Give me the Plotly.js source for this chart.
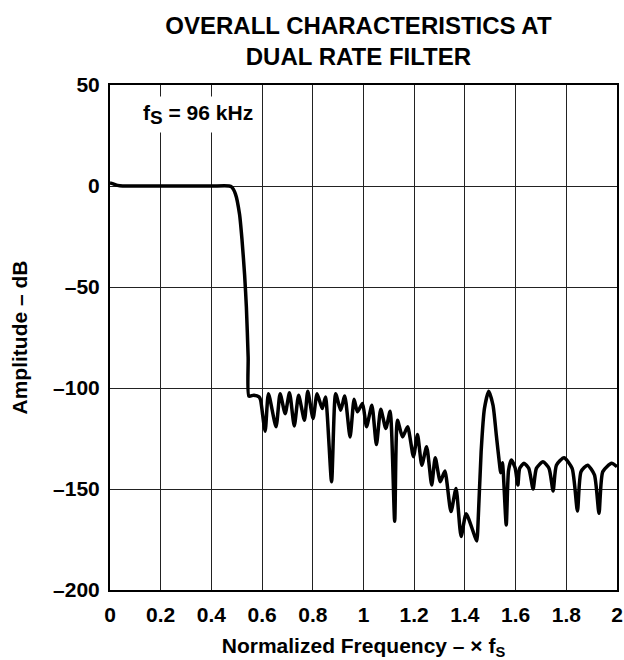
<!DOCTYPE html>
<html>
<head>
<meta charset="utf-8">
<script src="https://cdn.plot.ly/plotly-3.0.1.min.js"></script>
<style>html,body{margin:0;padding:0;background:#fff;}#chart{width:624px;height:660px;}</style>
</head>
<body>
<div id="chart"></div>
<script>
// Normalized frequency (x fS)
const freq = [
  0, 0.01, 0.03, 0.05, 0.2, 0.4, 0.47, 0.48, 0.495, 0.511, 0.521, 0.531, 0.538, 0.545, 0.548,
  0.567, 0.588, 0.594, 0.612, 0.625, 0.655, 0.671, 0.691, 0.708, 0.727, 0.744, 0.767, 0.780,
  0.801, 0.817, 0.837, 0.850, 0.874, 0.890, 0.910, 0.926, 0.947, 0.963, 0.976, 0.996, 1.012,
  1.033, 1.051, 1.068, 1.088, 1.105, 1.123, 1.134, 1.154, 1.174, 1.197, 1.213, 1.230, 1.249,
  1.269, 1.283, 1.303, 1.321, 1.345, 1.365, 1.385, 1.405, 1.447, 1.451, 1.464, 1.477, 1.494,
  1.511, 1.524, 1.537, 1.541, 1.548, 1.563, 1.572, 1.583, 1.598, 1.609, 1.616, 1.633, 1.652,
  1.669, 1.682, 1.708, 1.732, 1.748, 1.761, 1.791, 1.823, 1.844, 1.858, 1.884, 1.911, 1.929,
  1.944, 1.979, 2.0
];
// Amplitude (dB)
const amplitude = [
  1.5, 1.2, 0.3, 0, 0, 0, 0, -0.5, -4, -14, -27, -44, -60, -85, -104,
  -103.6, -104.4, -106, -121.4, -102.8, -119.2, -102.8, -112.7, -102.3, -118.8, -103.6, -116, -101.6,
  -115.1, -102.8, -110.2, -104.4, -146.4, -102.8, -111, -103.9, -124.2, -105.6, -111.8, -107.7, -119.2,
  -108.6, -128, -110.5, -120, -111.5, -166, -116, -124.2, -119.2, -134, -123, -138.2, -129.1,
  -148, -134.5, -146.4, -141.1, -161.2, -149.7, -173.5, -162.3, -175.7, -169.4, -131.6, -110.2, -101.6,
  -108.6, -123.4, -138.2, -142, -137, -167.8, -141, -135.7, -139.5, -148, -139.8, -137.3, -139.8,
  -150, -139.8, -136.5, -139.8, -151, -138.2, -134.5, -139.8, -160.9, -141.4, -138.2, -143, -162,
  -141.4, -137.3, -139
];
const xTickVals = [0, 0.2, 0.4, 0.6, 0.8, 1, 1.2, 1.4, 1.6, 1.8, 2];
const xTickText = ['0', '0.2', '0.4', '0.6', '0.8', '1', '1.2', '1.4', '1.6', '1.8', '2'];
const yTickVals = [-200, -150, -100, -50, 0, 50];
const yTickText = ['\u2013200', '\u2013150', '\u2013100', '\u201350', '0', '50'];

const FONT = 'Liberation Sans, Arial, Helvetica, sans-serif';

const trace = {
  x: freq, y: amplitude, type: 'scatter', mode: 'lines',
  line: {color: '#000', width: 3.5, shape: 'spline', smoothing: 0.6},
  hoverinfo: 'skip'
};

const axisCommon = {
  showgrid: true, gridcolor: '#222', gridwidth: 1,
  showline: true, linecolor: '#000', linewidth: 2, mirror: true,
  zeroline: false, ticks: '', tickmode: 'array',
  tickfont: {family: FONT, size: 21, color: '#000', weight: 'bold'}
};

const layout = {
  width: 624, height: 660,
  margin: {l: 110, r: 7, t: 85, b: 70},
  paper_bgcolor: '#fff', plot_bgcolor: '#fff',
  showlegend: false,
  title: {
    text: '<b>OVERALL CHARACTERISTICS AT<br>DUAL RATE FILTER</b>',
    font: {family: FONT, size: 24, color: '#000'},
    xref: 'paper', x: 0.49, xanchor: 'center',
    yref: 'container', y: 1 - 34 / 660, yanchor: 'top'
  },
  xaxis: Object.assign({}, axisCommon, {
    range: [0, 2], tickvals: xTickVals, ticktext: xTickText,
    ticklabelstandoff: 5,
    title: {text: '<b>Normalized Frequency \u2013 \u00d7 f<sub>S</sub></b>',
            font: {family: FONT, size: 21, color: '#000'}, standoff: 20}
  }),
  yaxis: Object.assign({}, axisCommon, {
    range: [-200, 50], tickvals: yTickVals, ticktext: yTickText,
    ticklabelstandoff: 4,
    title: {text: '<b>Amplitude \u2013 dB</b>',
            font: {family: FONT, size: 21, color: '#000'}, standoff: 20}
  }),
  annotations: [{
    x: 0.349, y: 35.5, xref: 'x', yref: 'y',
    text: '<b>f<sub><span style="font-size:19px">S</span></sub> = 96 kHz</b>', showarrow: false,
    font: {family: FONT, size: 21, color: '#000'},
    bgcolor: '#fff', borderpad: 4, xanchor: 'center', yanchor: 'middle'
  }]
};

Plotly.newPlot('chart', [trace], layout, {displayModeBar: false, staticPlot: true});
</script>
</body>
</html>
